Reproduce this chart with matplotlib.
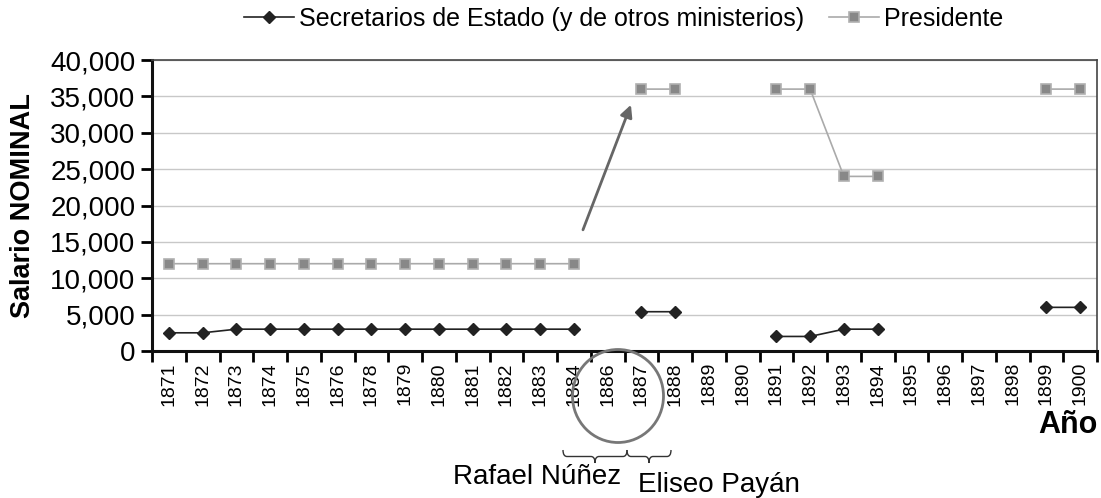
#!/usr/bin/env python3
"""Salario nominal: Secretarios de Estado vs Presidente, 1871-1900."""

import numpy as np
import matplotlib
matplotlib.use("Agg")
import matplotlib.pyplot as plt
from matplotlib.patches import Ellipse, PathPatch
from matplotlib.path import Path

plt.rcParams["font.family"] = ["Liberation Sans", "DejaVu Sans"]

years = ["1871", "1872", "1873", "1874", "1875", "1876", "1878", "1879",
         "1880", "1881", "1882", "1883", "1884", "1886", "1887", "1888",
         "1889", "1890", "1891", "1892", "1893", "1894", "1895", "1896",
         "1897", "1898", "1899", "1900"]
nan = np.nan
secretarios = [2500, 2500, 3000, 3000, 3000, 3000, 3000, 3000,
               3000, 3000, 3000, 3000, 3000, nan, 5400, 5400,
               nan, nan, 2000, 2000, 3000, 3000, nan, nan,
               nan, nan, 6000, 6000]
presidente = [12000, 12000, 12000, 12000, 12000, 12000, 12000, 12000,
              12000, 12000, 12000, 12000, 12000, nan, 36000, 36000,
              nan, nan, 36000, 36000, 24000, 24000, nan, nan,
              nan, nan, 36000, 36000]
yticks = list(range(0, 40001, 5000))


def brace(fig, x0, x1, y, depth, color="#333333"):
    # curly brace pointing down, in figure pixels
    W, H = fig.bbox.width, fig.bbox.height
    xm = (x0 + x1) / 2
    d = depth / 2
    pts = [(x0, y), (x0, y + d), (x0 + 4, y + d), (xm - 4, y + d),
           (xm, y + d), (xm, y + depth),
           (xm, y + d), (xm + 4, y + d), (x1 - 4, y + d),
           (x1, y + d), (x1, y)]
    codes = [Path.MOVETO, Path.CURVE3, Path.CURVE3, Path.LINETO,
             Path.CURVE3, Path.CURVE3,
             Path.CURVE3, Path.CURVE3, Path.LINETO,
             Path.CURVE3, Path.CURVE3]
    verts = [(px / W, 1 - py / H) for px, py in pts]
    fig.patches.append(PathPatch(Path(verts, codes), transform=fig.transFigure,
                                 fill=False, lw=1.0, color=color))


fig = plt.figure(figsize=(11.01, 4.98), dpi=100)
ax = fig.add_axes([152 / 1101, 1 - 351 / 498, 945 / 1101, 291 / 498])

x = np.arange(len(years))
ax.plot(x, secretarios, color="#222222", lw=1.2, marker="D", ms=6.5,
        mfc="#222222", mec="#222222", label="Secretarios de Estado (y de otros ministerios)")
ax.plot(x, presidente, color="#aaaaaa", lw=1.2, marker="s", ms=6.5,
        mfc="#888888", mec="#b0b0b0", mew=1.2, label="Presidente")

ax.set_xlim(-0.5, len(years) - 0.5)
ax.set_ylim(0, 40000)
ax.set_yticks(yticks)
ax.set_yticklabels([f"{v:,}" for v in yticks], fontsize=20)
ax.set_xticks(x)
ax.set_xticklabels(years, rotation=90, fontsize=14)
ax.set_xticks(np.arange(-0.5, len(years)), minor=True)
ax.tick_params(axis="x", which="major", length=0, pad=8)
ax.tick_params(axis="x", which="minor", length=8, width=2, direction="out")
ax.tick_params(axis="y", length=8, width=2, direction="out", pad=4)
ax.grid(axis="y", color="#c8c8c8", lw=1)
ax.set_axisbelow(True)
for side in ("left", "bottom"):
    ax.spines[side].set_linewidth(2.2)
    ax.spines[side].set_color("#111111")
for side in ("top", "right"):
    ax.spines[side].set_linewidth(1.2)
    ax.spines[side].set_color("#444444")

ax.set_ylabel("Salario NOMINAL", fontsize=19.5, fontweight="bold", labelpad=10)
fig.text(1098 / 1101, 1 - 425 / 498, "Año", fontsize=22, fontweight="bold",
         ha="right", va="center")

fig.legend(*ax.get_legend_handles_labels(), loc="center",
           bbox_to_anchor=(624 / 1101, 1 - 19 / 498), ncol=2, frameon=False,
           fontsize=18, handlelength=2.0, handletextpad=0.2, columnspacing=1.0,
           borderaxespad=0, borderpad=0)

# arrow showing the jump in the president's salary
ax.annotate("", xy=(13.72, 34200), xytext=(12.24, 16300),
            arrowprops=dict(arrowstyle="-|>", color="#666666", lw=2,
                            mutation_scale=18))

# circle around 1884-1887 labels
fig.patches.append(Ellipse((618 / 1101, 1 - 396 / 498), 91 / 1101, 93 / 498,
                           transform=fig.transFigure, fill=False,
                           ec="#777777", lw=2))
brace(fig, 563, 627, 450, 13)
brace(fig, 627, 671, 450, 13)
fig.text(537 / 1101, 1 - 477 / 498, "Rafael Núñez", fontsize=20,
         ha="center", va="center")
fig.text(719 / 1101, 1 - 485 / 498, "Eliseo Payán", fontsize=20,
         ha="center", va="center")

fig.savefig("out.png", dpi=100)
